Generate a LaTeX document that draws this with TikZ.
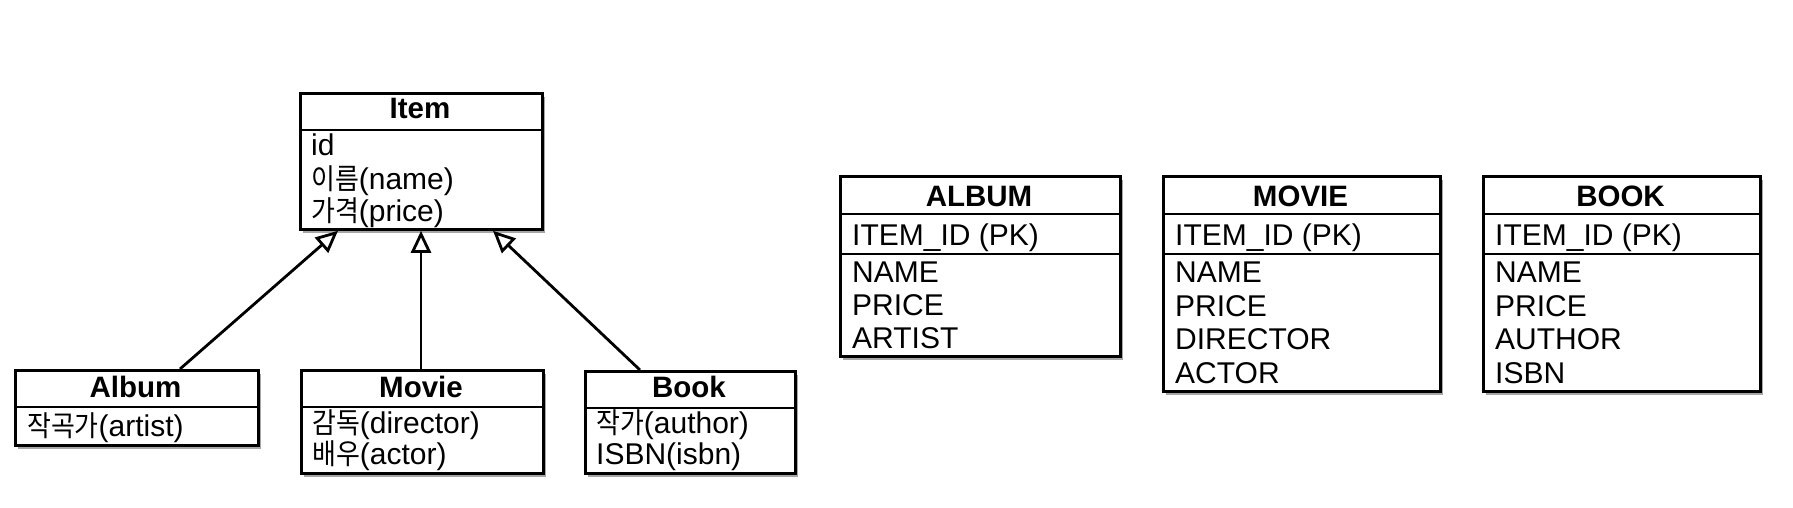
\documentclass[tikz,border=0pt]{standalone}
\usepackage{fontspec}
\setmainfont{Liberation Sans}
\newfontfamily\kr[FakeStretch=0.9,Scale=0.96]{Noto Sans CJK KR}
\usetikzlibrary{arrows.meta,shadows,calc}
\begin{document}
\begin{tikzpicture}[x=1pt,y=-1pt,
  box/.style={draw=black, line width=2.8pt, fill=white, inner sep=0pt, anchor=north west,
    drop shadow={shadow xshift=2.5pt, shadow yshift=-3.5pt, opacity=0.35, fill=black}},
  sepline/.style={line width=2.8pt},
  ttl/.style={font=\fontsize{29.5}{33}\selectfont\bfseries, inner sep=0pt, anchor=base},
  txt/.style={font=\fontsize{30}{33}\selectfont, inner sep=0pt, anchor=base west},
  gen/.style={line width=2.8pt, -{Triangle[open, length=22pt, width=20pt, line width=2.8pt]}}
]
\useasboundingbox[fill=white] (0,0) rectangle (1793,508);

% ---------- UML classes ----------
\node[box, minimum width=242pt, minimum height=136pt] (item) at (299,92) {};
\draw[sepline] ($(item.north west)+(0,38)$) -- ($(item.north east)+(0,38)$);
\node[ttl] (itemT) at (420,119) {Item};
\node[txt] (itemA1) at (311,156) {id};
\node[txt] (itemA2) at (311,189) {{\kr 이름}(name)};
\node[txt] (itemA3) at (311,221) {{\kr 가격}(price)};

\node[box, minimum width=243pt, minimum height=75pt] (album) at (14,369) {};
\draw[sepline] ($(album.north west)+(0,38)$) -- ($(album.north east)+(0,38)$);
\node[ttl] (albumT) at (135.5,397) {Album};
\node[txt] (albumA1) at (27,436) {{\kr 작곡가}(artist)};

\node[box, minimum width=242pt, minimum height=103pt] (movie) at (300,369) {};
\draw[sepline] ($(movie.north west)+(0,38)$) -- ($(movie.north east)+(0,38)$);
\node[ttl] (movieT) at (421,397) {Movie};
\node[txt] (movieA1) at (312,433) {{\kr 감독}(director)};
\node[txt] (movieA2) at (312,464) {{\kr 배우}(actor)};

\node[box, minimum width=210pt, minimum height=102pt] (book) at (584,370) {};
\draw[sepline] ($(book.north west)+(0,38)$) -- ($(book.north east)+(0,38)$);
\node[ttl] (bookT) at (689,397) {Book};
\node[txt] (bookA1) at (596,433) {{\kr 작가}(author)};
\node[txt] (bookA2) at (596,464) {ISBN(isbn)};

% generalization arrows
\draw[gen] ($(album.north west)+(166,0)$) -- ($(item.south west)+(39,0)$);
\draw[gen] ($(movie.north west)+(121,0)$) -- ($(item.south west)+(122,0)$);
\draw[gen] ($(book.north west)+(56,0)$) -- ($(item.south west)+(194,0)$);

% ---------- tables ----------
\node[box, minimum width=280pt, minimum height=180pt] (tA) at (839,175) {};
\draw[sepline] ($(tA.north west)+(0,39)$) -- ($(tA.north east)+(0,39)$);
\draw[sepline] ($(tA.north west)+(0,79)$) -- ($(tA.north east)+(0,79)$);
\node[ttl] (tAT) at (979,206) {ALBUM};
\node[txt] (tA0) at (852,245) {ITEM\_ID (PK)};
\node[txt] (tA1) at (852,282) {NAME};
\node[txt] (tA2) at (852,315) {PRICE};
\node[txt] (tA3) at (852,348) {ARTIST};

\node[box, minimum width=277pt, minimum height=215pt] (tM) at (1162,175) {};
\draw[sepline] ($(tM.north west)+(0,39)$) -- ($(tM.north east)+(0,39)$);
\draw[sepline] ($(tM.north west)+(0,79)$) -- ($(tM.north east)+(0,79)$);
\node[ttl] (tMT) at (1300.5,206) {MOVIE};
\node[txt] (tM0) at (1175,245) {ITEM\_ID (PK)};
\node[txt] (tM1) at (1175,282) {NAME};
\node[txt] (tM2) at (1175,316) {PRICE};
\node[txt] (tM3) at (1175,349) {DIRECTOR};
\node[txt] (tM4) at (1175,383) {ACTOR};

\node[box, minimum width=277pt, minimum height=215pt] (tB) at (1482,175) {};
\draw[sepline] ($(tB.north west)+(0,39)$) -- ($(tB.north east)+(0,39)$);
\draw[sepline] ($(tB.north west)+(0,79)$) -- ($(tB.north east)+(0,79)$);
\node[ttl] (tBT) at (1620.5,206) {BOOK};
\node[txt] (tB0) at (1495,245) {ITEM\_ID (PK)};
\node[txt] (tB1) at (1495,282) {NAME};
\node[txt] (tB2) at (1495,316) {PRICE};
\node[txt] (tB3) at (1495,349) {AUTHOR};
\node[txt] (tB4) at (1495,383) {ISBN};
\end{tikzpicture}
\end{document}
